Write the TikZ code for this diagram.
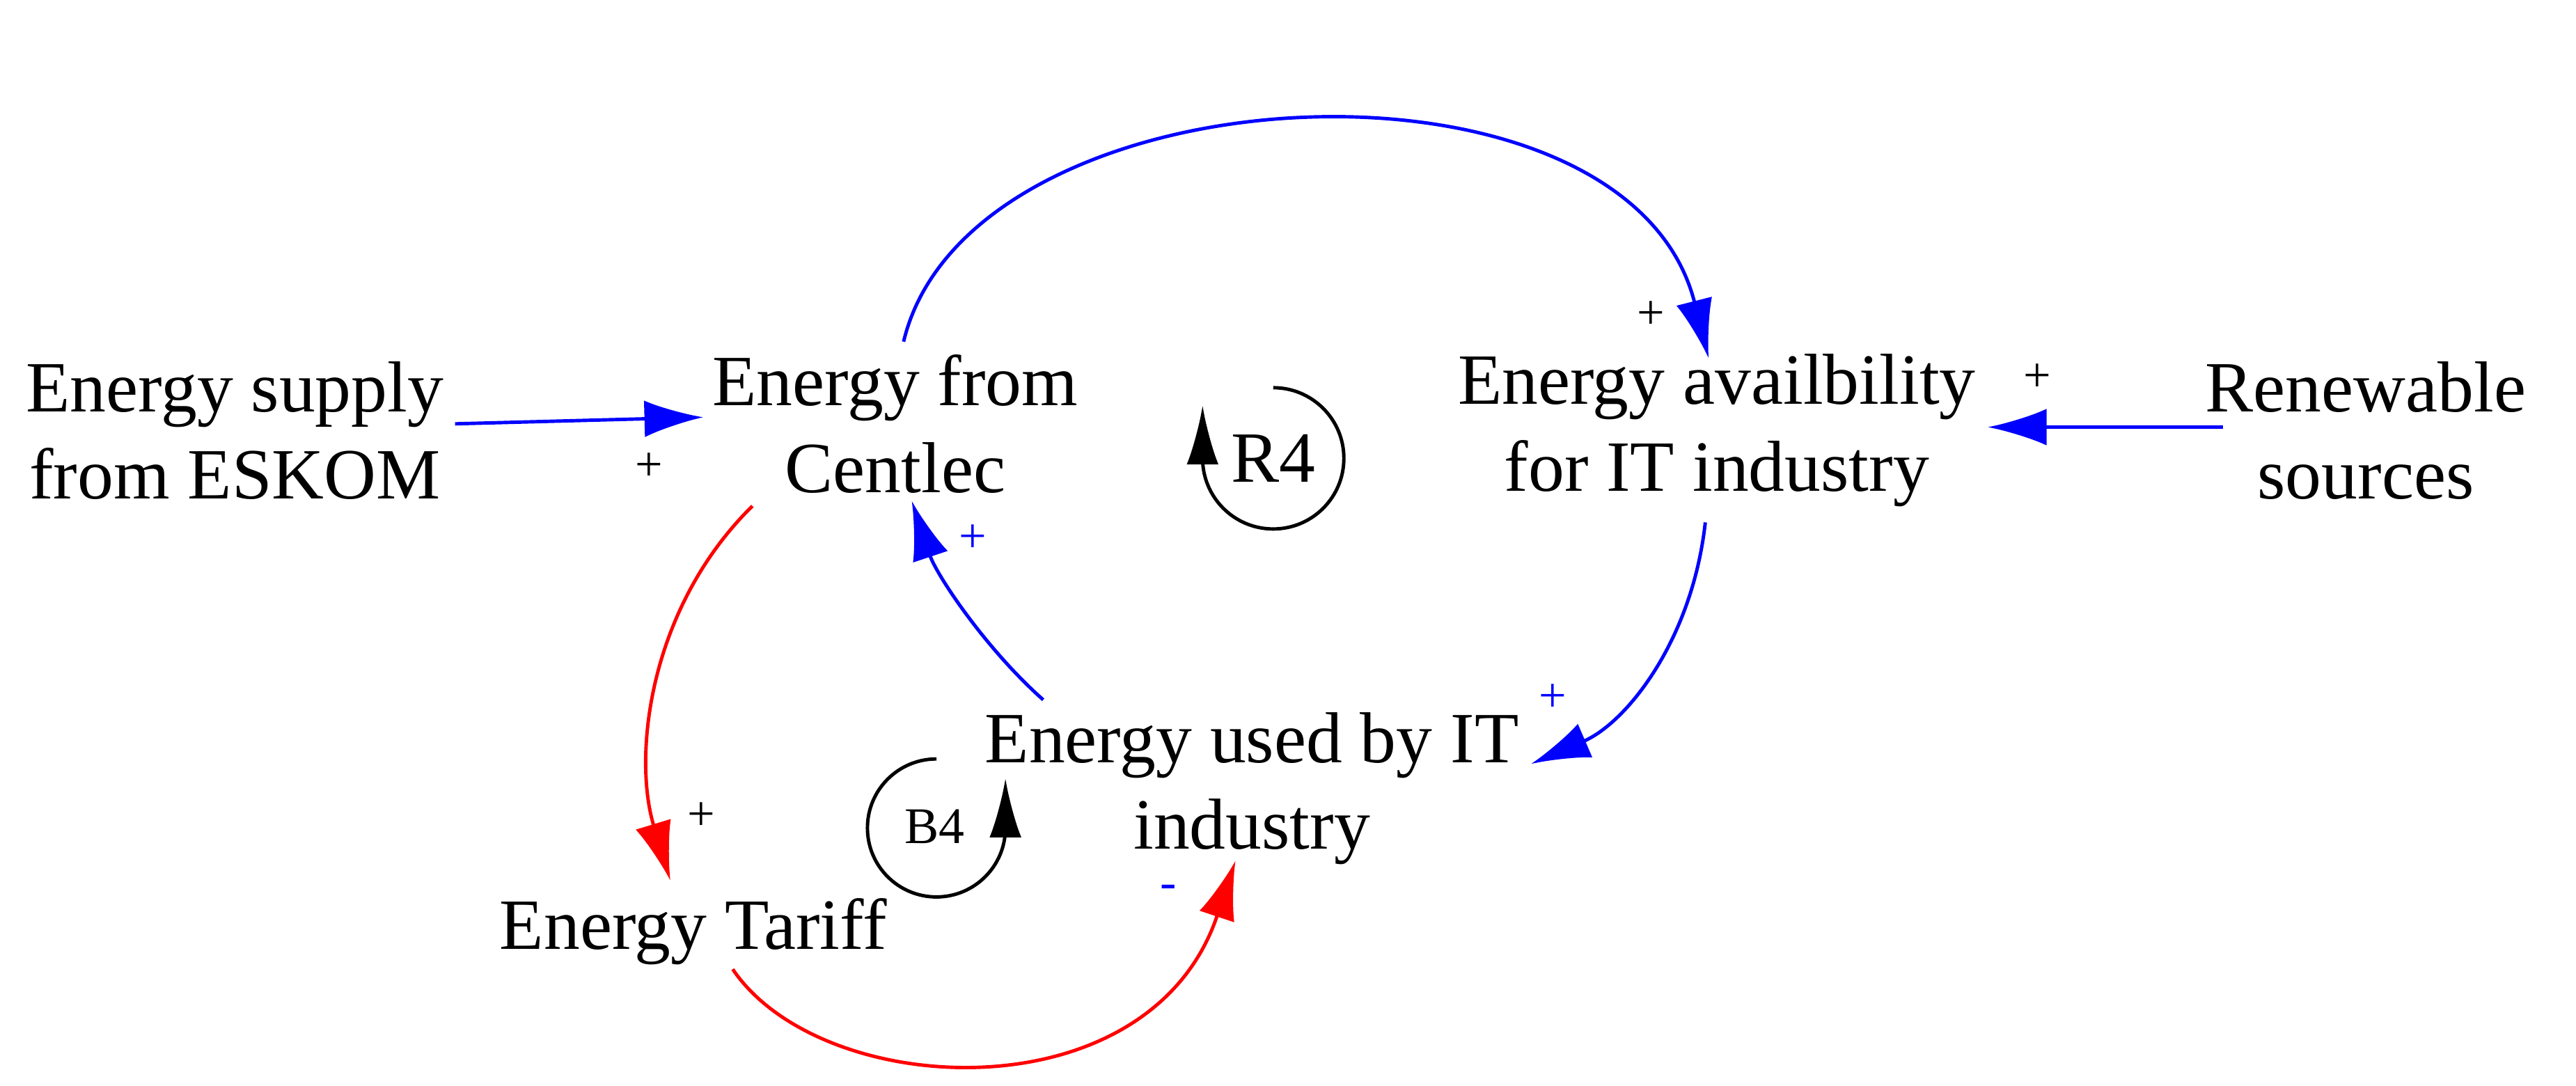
\documentclass[tikz,border=0pt]{standalone}
\usepackage{fontspec}
\setmainfont{Liberation Serif}
\usetikzlibrary{arrows.meta}
\begin{document}
\begin{tikzpicture}[x=0.0236cm,y=-0.0236cm,
  lbl/.style={font=\fontsize{29.5}{35.5}\selectfont,align=center,inner sep=2pt},
  sg/.style={font=\fontsize{20}{24}\selectfont,inner sep=0pt},
  link/.style={line width=1.4pt,-{Latex[length=24pt,width=15pt]}},
  bl/.style={link,blue},rd/.style={link,red},
  loop/.style={line width=1.4pt,-{Latex[length=24pt,width=13pt]}}]
\useasboundingbox (0,0) rectangle (1568,661);
\node[lbl] (esk) at (143,262) {Energy supply\\from ESKOM};
\node[lbl] (cen) at (545,258) {Energy from\\Centlec};
\node[lbl] (ava) at (1045,262) {Energy availbility\\for IT industry};
\node[lbl] (ren) at (1440,262) {Renewable\\sources};
\node[lbl] (use) at (762,480) {Energy used by IT\\industry};
\node[lbl] (tar) at (422,567) {Energy Tariff};
\coordinate (a1) at (277,258); \coordinate (a2) at (428,254);
\draw[bl] (a1) -- (a2);
\coordinate (b1) at (550,208); \coordinate (b2) at (1040,218);
\draw[bl] (b1) .. controls (590,40) and (990,20) .. (b2);
\coordinate (c1) at (1353,260); \coordinate (c2) at (1210,260);
\draw[bl] (c1) -- (c2);
\coordinate (d1) at (1038,318); \coordinate (d2) at (932,465);
\draw[bl] (d1) .. controls (1030,390) and (990,440) .. (d2);
\coordinate (e1) at (635,426); \coordinate (e2) at (555,305);
\draw[bl] (e1) .. controls (600,395) and (570,350) .. (e2);
\coordinate (f1) at (458,308); \coordinate (f2) at (408,536);
\draw[rd] (f1) .. controls (395,370) and (385,460) .. (f2);
\coordinate (g1) at (446,590); \coordinate (g2) at (752,524);
\draw[rd] (g1) .. controls (500,670) and (700,680) .. (g2);
\node[sg] (p1) at (395,284) {+};
\node[sg] (p2) at (1005,192) {+};
\node[sg] (p3) at (1240,230) {+};
\node[sg,blue] (p4) at (945,425) {+};
\node[sg,blue] (p5) at (592,328) {+};
\node[sg] (p6) at (427,497) {+};
\node[sg,blue] (p7) at (711,543) {-};
\node[lbl] (r4) at (775,279) {R4};
\coordinate (r4s) at (775,236);
\draw[loop] (r4s) arc[start angle=-90,end angle=180,radius=43] -- ++(0,-32);
\node[font=\fontsize{21}{25}\selectfont] (b4) at (569,503) {B4};
\coordinate (b4s) at (570,462);
\draw[loop] (b4s) arc[start angle=-90,end angle=-360,radius=42] -- ++(0,-30);
\end{tikzpicture}
\end{document}
